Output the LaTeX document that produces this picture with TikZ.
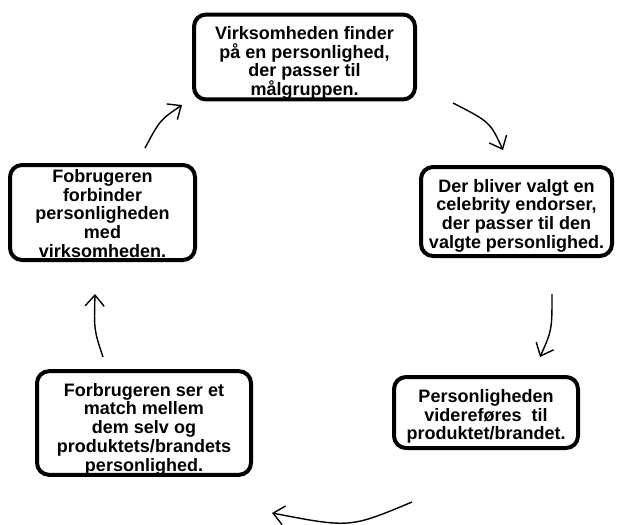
\documentclass[tikz,border=0pt]{standalone}
\usepackage{fontspec}
\setmainfont{Liberation Sans}
\usetikzlibrary{arrows.meta}
\newcommand\toplift[1]{\rule{0pt}{#1}}
\begin{document}
\begin{tikzpicture}[x=1pt,y=-1pt,
  stepbox/.style={draw=black, line width=4pt, rounded corners=12pt, fill=white,
    align=center, inner sep=0pt, font=\bfseries\fontsize{18pt}{18.7pt}\selectfont},
  flow/.style={line width=1.4pt, -{Straight Barb[length=11pt,width=19pt,line width=1.4pt]}}]
\useasboundingbox (0,0) rectangle (617,524);
\node[stepbox, minimum width=221pt, minimum height=84pt] (b1) at (304.5,57)
  {\toplift{25pt}Virksomheden finder\\på en personlighed,\\der passer til\\målgruppen.};
\node[stepbox, minimum width=191pt, minimum height=89pt] (b2) at (516.5,211.5)
  {\toplift{21pt}Der bliver valgt en\\celebrity endorser,\\der passer til den\\valgte personlighed.};
\node[stepbox, minimum width=184pt, minimum height=71pt] (b3) at (486,412.5)
  {\toplift{21pt}Personligheden\\videreføres\ \ til\\produktet/brandet.};
\node[stepbox, minimum width=214pt, minimum height=96pt] (b4) at (144,423)
  {\toplift{25pt}Forbrugeren ser et\\match mellem\\dem selv og\\produktets/brandets\\personlighed.};
\node[stepbox, minimum width=185pt, minimum height=95pt] (b5) at (102.5,212.5)
  {\toplift{15pt}Fobrugeren\\forbinder\\personligheden\\med\\virksomheden.};
\coordinate (a1s) at (453,103);
\coordinate (a1e) at (503,150);
\coordinate (a2s) at (552,294);
\coordinate (a2e) at (540,357);
\coordinate (a3s) at (412,502);
\coordinate (a3e) at (272,513);
\coordinate (a4s) at (103,357);
\coordinate (a4e) at (95,294);
\coordinate (a5s) at (145,148);
\coordinate (a5e) at (182,105);
\draw[flow] (a1s) .. controls (490,122) .. (a1e);
\draw[flow] (a2s) .. controls (552,330) .. (a2e);
\draw[flow] (a3s) .. controls (350,528) .. (a3e);
\draw[flow] (a4s) .. controls (94,330) .. (a4e);
\draw[flow] (a5s) .. controls (160,120) .. (a5e);
\end{tikzpicture}
\end{document}
